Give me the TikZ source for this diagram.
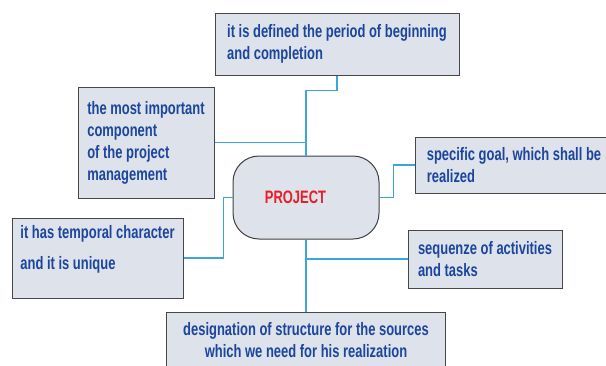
\documentclass[tikz,border=0pt]{standalone}
\usepackage{fontspec}
\setmainfont{Liberation Sans}[FakeStretch=0.72]
\usepackage{xcolor}
\usepackage{tikz}
\usetikzlibrary{calc,positioning}

\definecolor{boxfill}{RGB}{222,226,234}
\definecolor{boxtext}{RGB}{28,70,158}
\definecolor{linkblue}{RGB}{60,166,220}
\definecolor{projred}{RGB}{232,30,40}

\begin{document}
\begin{tikzpicture}
    [%%%%%%%%%%%%%%%%%%%%%%%%%%%%%%
        x=1pt, y=-1pt,
        card/.style={rectangle, draw=black!72, line width=1pt, fill=boxfill, text=boxtext,
                     font=\fontsize{18}{22}\selectfont\bfseries, align=left, inner sep=3pt},
        hub/.style={rectangle, rounded corners=26pt, draw=black!75, line width=1pt, fill=boxfill,
                    minimum width=146pt, minimum height=83pt},
        link/.style={draw=linkblue, line width=1.1pt},
    ]%%%%%%%%%%%%%%%%%%%%%%%%%%%%%%

\useasboundingbox (0,0) rectangle (606,365);

% the project in the middle
\node[hub] (project) at (306,197.5){ };
\node[text=projred, font=\fontsize{18}{20}\selectfont\bfseries] (projlabel) at ([xshift=-10.5pt]project.center){PROJECT};

% boxes round it
\node[card, minimum width=244pt, minimum height=62pt] (period) at (337,44){it is defined the period of beginning\\and completion};
\node[card, minimum width=136pt, minimum height=111pt] (core) at (146,142.5){the most important\\component\\of the project\\management};
\node[card, minimum width=171pt, minimum height=80pt] (temporal) at (97.5,258){it has temporal character\\[9pt]and it is unique\\\mbox{}};
\node[card, minimum width=198pt, minimum height=56pt] (goal) at (514,165){specific goal, which shall be\\realized};
\node[card, minimum width=154pt, minimum height=58pt] (seq) at (485,259){sequenze of activities\\and tasks};
\node[card, align=center, minimum width=279pt, minimum height=56pt] (design) at (306,340){designation of structure for the sources\\which we need for his realization};

% connectors
\draw[link] (period.south) -- ++(0,15) -| (project.north);
\draw[link] (core.east) -- (core.east -| project.north);
\draw[link] (temporal.east) -- ++(40,0) |- (project.west);
\draw[link] (project.east) -- ++(14,0) |- (goal.west);
\draw[link] (project.south) -- (design.north);
\draw[link] (seq.west) -- (seq.west -| project.south);
%\draw[link] (project.south) -- ++(0,62);

\end{tikzpicture}
\end{document}
